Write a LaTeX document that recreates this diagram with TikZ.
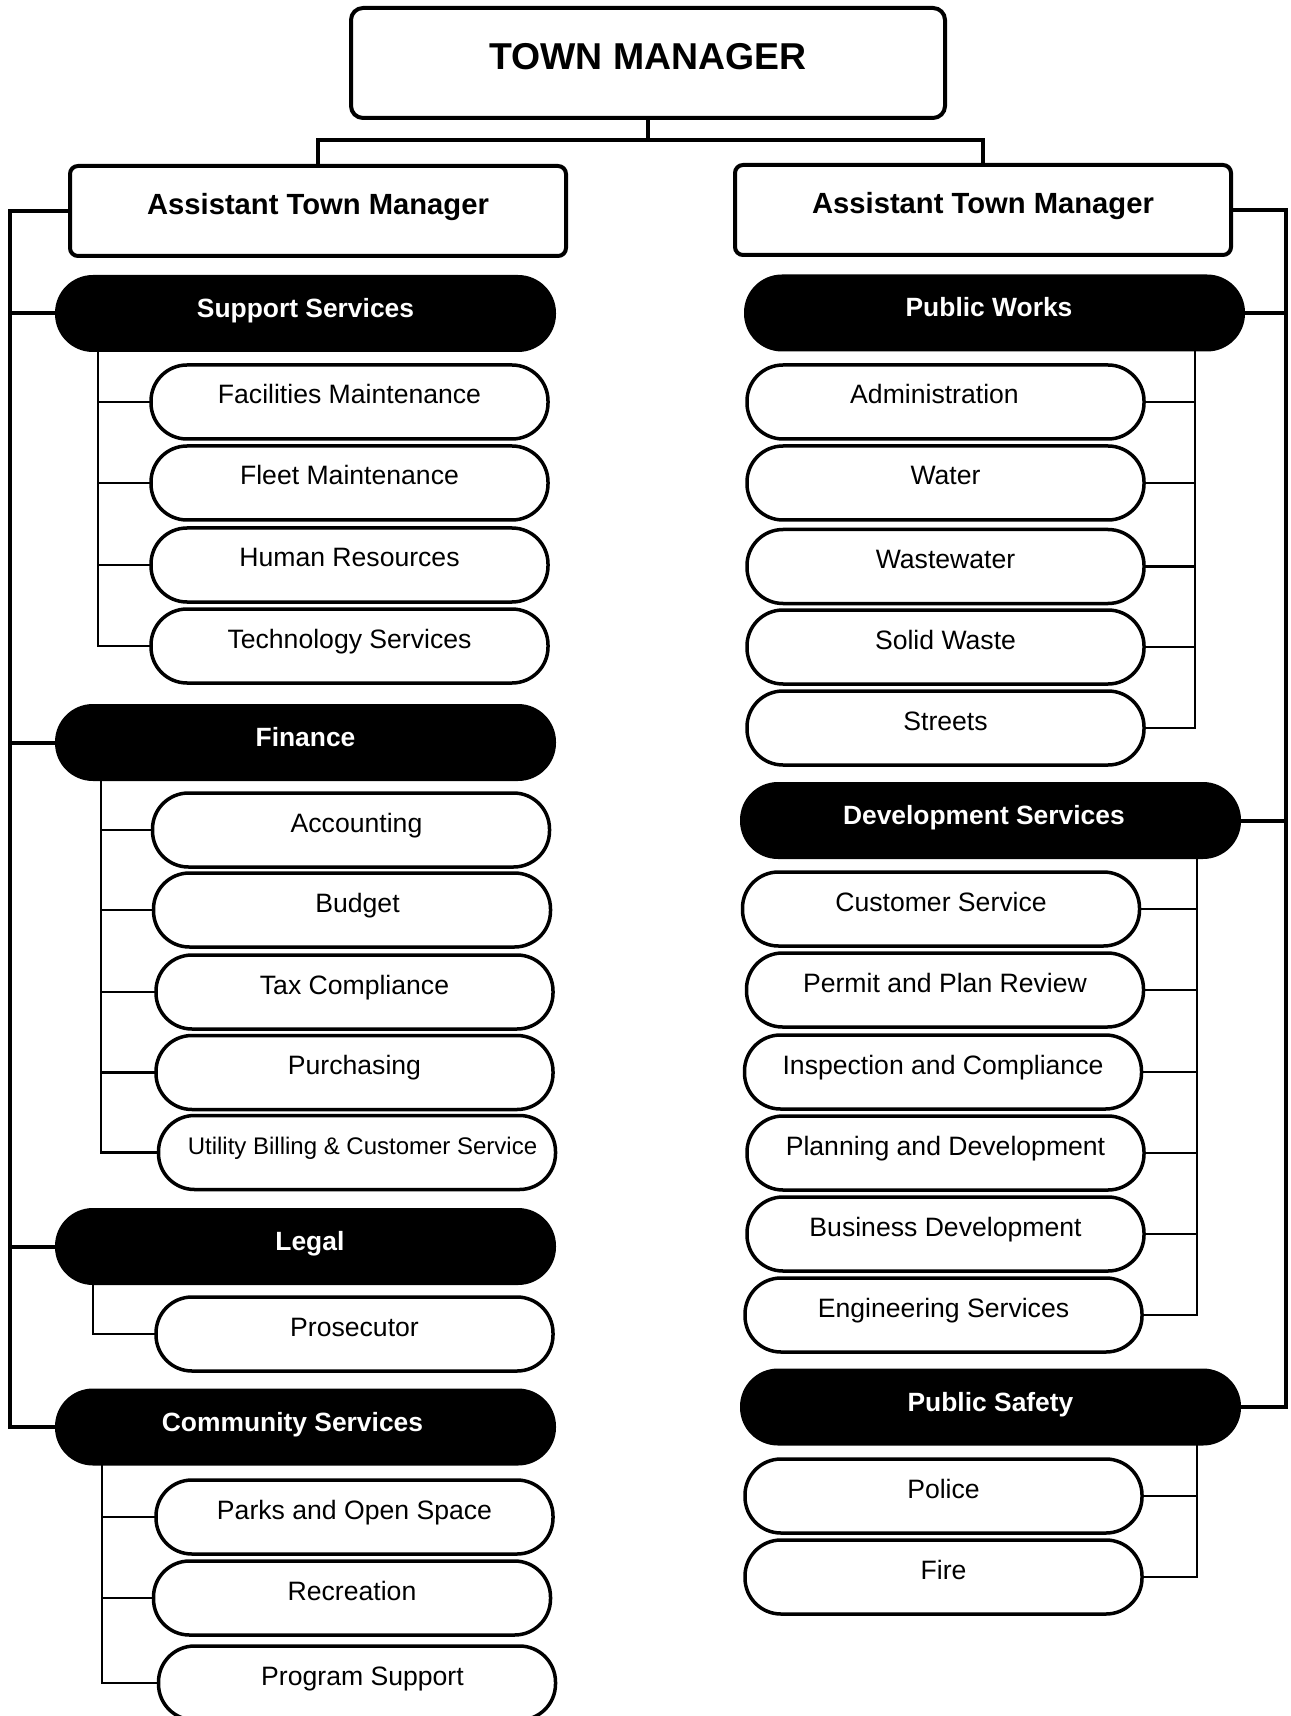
\documentclass[tikz,border=0pt]{standalone}
\usepackage{fontspec}
\setmainfont{Liberation Sans}
\newcommand{\shl}[2]{#2\hspace*{#1}}
\newcommand{\shr}[2]{\hspace*{#1}#2}
\begin{document}
\begin{tikzpicture}[x=0.5pt,y=-0.5pt,
  every node/.style={outer sep=0pt, inner sep=0pt, align=center},
  topbox/.style={draw, line width=2pt, rounded corners=6pt, minimum width=297pt, minimum height=55pt, font=\bfseries\fontsize{18.7}{20}\selectfont, text height=10pt, text depth=3pt},
  atmbox/.style={draw, line width=2pt, rounded corners=4pt, minimum width=248pt, minimum height=45pt, font=\bfseries\fontsize{14.6}{16}\selectfont, text height=8pt, text depth=4pt},
  dept/.style={fill=black, draw=black, line width=1pt, rounded corners=18.5pt, minimum width=249.5pt, minimum height=37.5pt, text=white, font=\bfseries\fontsize{13.2}{15}\selectfont, text height=8pt, text depth=4pt},
  unit/.style={draw, line width=1.75pt, fill=white, rounded corners=18pt, minimum width=198.5pt, minimum height=37pt, font=\fontsize{13.3}{15}\selectfont, text height=7pt, text depth=5pt},
  trunk/.style={line width=2pt},
  twig/.style={line width=1.2pt}]
\useasboundingbox (0,0) rectangle (1290,1716);

% top
\node[topbox] (tm) at (648,63) {TOWN MANAGER};
\node[atmbox] (atmL) at (318,211) {Assistant Town Manager};
\node[atmbox] (atmR) at (983,210) {Assistant Town Manager};

% departments
\node[dept] (ss)  at (305.5,313.5) {Support Services};
\node[dept] (fin) at (305.5,742.5) {Finance};
\node[dept] (leg) at (305.5,1246.5) {\shr{4.4pt}{Legal}};
\node[dept] (com) at (305.5,1427) {\shl{13pt}{Community Services}};
\node[dept] (pw)  at (994.5,313) {\shl{5.5pt}{Public Works}};
\node[dept] (dev) at (990.5,820.5) {\shl{6.6pt}{Development Services}};
\node[dept] (ps)  at (990.5,1407) {Public Safety};

% left units
\node[unit] (a1) at (349.5,402) {Facilities Maintenance};
\node[unit] (a2) at (349.5,483) {Fleet Maintenance};
\node[unit] (a3) at (349.5,565) {Human Resources};
\node[unit] (a4) at (349.5,646) {Technology Services};
\node[unit] (b1) at (351,830) {\shr{5.5pt}{Accounting}};
\node[unit] (b2) at (352,910) {\shr{5.5pt}{Budget}};
\node[unit] (b3) at (354.5,992) {Tax Compliance};
\node[unit] (b4) at (354.5,1072.5) {Purchasing};
\node[unit, font=\fontsize{12}{14}\selectfont] (b5) at (357,1152.5) {\shr{5.5pt}{Utility Billing \& Customer Service}};
\node[unit] (c1) at (354.5,1334) {Prosecutor};
\node[unit] (d1) at (354.5,1517) {Parks and Open Space};
\node[unit] (d2) at (352,1598) {Recreation};
\node[unit] (d3) at (357,1683) {\shr{5.5pt}{Program Support}};

% right units
\node[unit] (e1) at (945.5,402) {\shl{11pt}{Administration}};
\node[unit] (e2) at (945.5,483) {Water};
\node[unit] (e3) at (945.5,566.5) {Wastewater};
\node[unit] (e4) at (945.5,647) {Solid Waste};
\node[unit] (e5) at (945.5,728) {Streets};
\node[unit] (f1) at (941,909) {Customer Service};
\node[unit] (f2) at (945,990) {Permit and Plan Review};
\node[unit] (f3) at (943,1072) {Inspection and Compliance};
\node[unit] (f4) at (945.5,1153) {Planning and Development};
\node[unit] (f5) at (945.5,1234) {Business Development};
\node[unit] (f6) at (943.5,1315) {Engineering Services};
\node[unit] (g1) at (943.5,1496) {Police};
\node[unit] (g2) at (943.5,1577) {Fire};

% top connectors
\draw[trunk] (tm.south) -- ++(0,22) coordinate (tj);
\draw[trunk] (tj) -| (atmL.north);
\draw[trunk] (tj) -| (atmR.north);

% left trunk
\coordinate (LT) at (10,0);
\draw[trunk] (atmL.west) -- (atmL.west -| LT) -- (com.west -| LT) -- (com.west);
\foreach \n in {ss,fin,leg} \draw[trunk] (\n.west -| LT) -- (\n.west);

% right trunk
\coordinate (RT) at (1286,0);
\draw[trunk] (atmR.east) -- (atmR.east -| RT) -- (ps.east -| RT) -- (ps.east);
\foreach \n in {pw,dev} \draw[trunk] (\n.east -| RT) -- (\n.east);

% left twigs
\coordinate (sx) at (98,0);
\draw[twig] (ss.south -| sx) |- (a4.west);
\foreach \n in {a1,a2,a3} \draw[twig] (\n.west -| sx) -- (\n.west);
\coordinate (fx) at (101,0);
\draw[twig] (fin.south -| fx) |- (b5.west);
\foreach \n in {b1,b2,b3,b4} \draw[twig] (\n.west -| fx) -- (\n.west);
\coordinate (lx) at (93,0);
\draw[twig] (leg.south -| lx) |- (c1.west);
\coordinate (cx) at (102,0);
\draw[twig] (com.south -| cx) |- (d3.west);
\foreach \n in {d1,d2} \draw[twig] (\n.west -| cx) -- (\n.west);

% right twigs
\coordinate (px) at (1195,0);
\draw[twig] (pw.south -| px) |- (e5.east);
\foreach \n in {e1,e2,e3,e4} \draw[twig] (\n.east -| px) -- (\n.east);
\coordinate (dx) at (1197,0);
\draw[twig] (dev.south -| dx) |- (f6.east);
\foreach \n in {f1,f2,f3,f4,f5} \draw[twig] (\n.east -| dx) -- (\n.east);
\draw[twig] (ps.south -| dx) |- (g2.east);
\draw[twig] (g1.east -| dx) -- (g1.east);
\end{tikzpicture}
\end{document}
